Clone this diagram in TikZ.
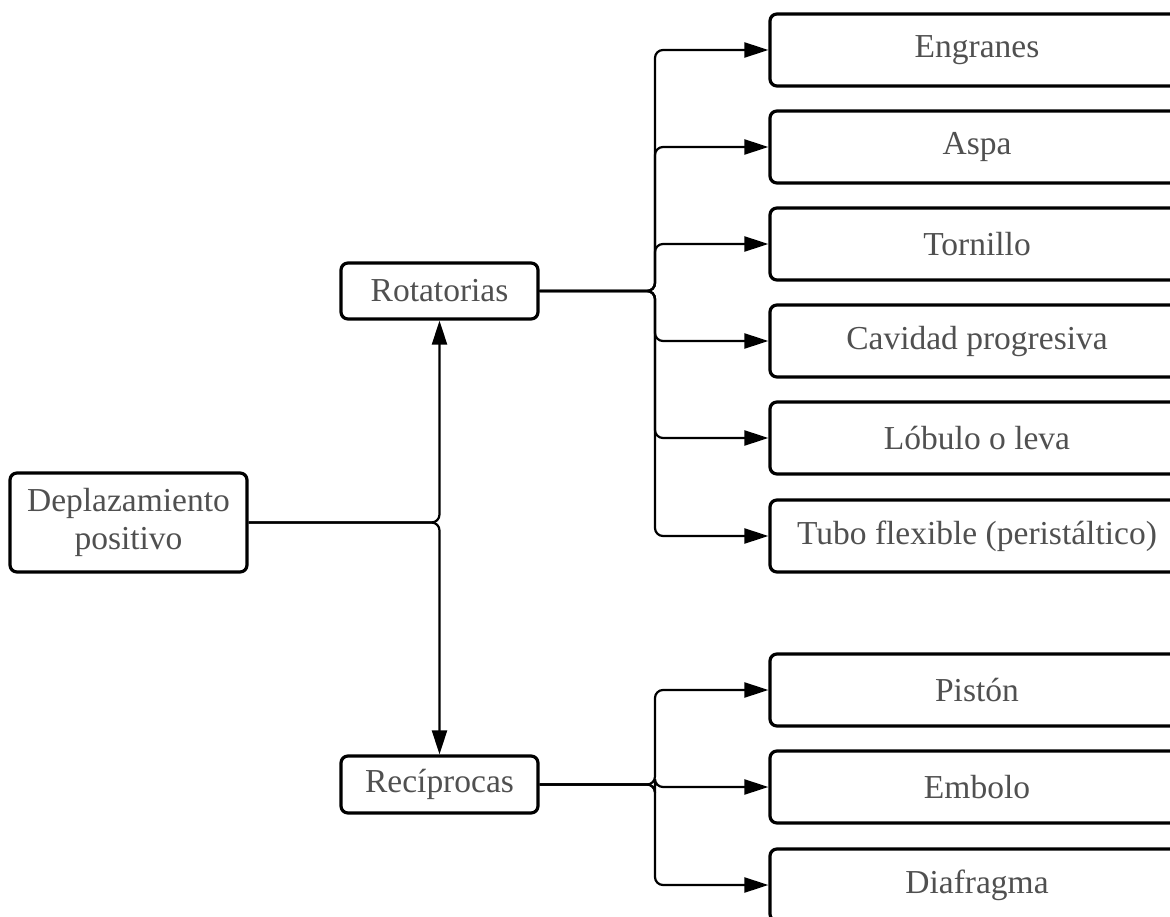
\documentclass[tikz,border=0pt]{standalone}
\usepackage{fontspec}
\setmainfont{Liberation Serif}
\usetikzlibrary{arrows.meta}
\definecolor{txt}{HTML}{505050}
\begin{document}
\begin{tikzpicture}[x=1pt,y=-1pt,
  box/.style={draw=black, line width=3.2pt, rounded corners=7pt, fill=white, text=txt,
    font=\fontsize{33.5}{38}\selectfont, align=center, inner sep=0pt},
  leaf/.style={box, minimum width=414pt, minimum height=72pt},
  conn/.style={line width=2.2pt, rounded corners=8pt, -{Triangle[length=24pt,width=15pt]}}]
\useasboundingbox (0,0) rectangle (1170,917);
\clip (0,0) rectangle (1170,917);
\node[box, minimum width=237pt, minimum height=99pt] (dep) at (128.5,522.5) {Deplazamiento\\positivo};
\node[box, minimum width=197pt, minimum height=56pt] (rot) at (439.5,291) {Rotatorias};
\node[box, minimum width=197pt, minimum height=57pt] (rec) at (439.5,784.5) {Recíprocas};
\node[leaf] (c1) at (977,50) {Engranes};
\node[leaf] (c2) at (977,147) {Aspa};
\node[leaf] (c3) at (977,244) {Tornillo};
\node[leaf] (c4) at (977,341) {Cavidad progresiva};
\node[leaf] (c5) at (977,438) {Lóbulo o leva};
\node[leaf] (c6) at (977,536) {Tubo flexible (peristáltico)};
\node[leaf] (d1) at (977,690) {Pistón};
\node[leaf] (d2) at (977,787) {Embolo};
\node[leaf] (d3) at (977,885) {Diafragma};
\draw[conn] (dep.east) -| (rot.south);
\draw[conn] (dep.east) -| (rec.north);
\foreach \c in {c1,c2,c3,c4,c5,c6}
  \draw[conn] (rot.east) -- (655,291) |- (\c.west);
\foreach \c in {d1,d2,d3}
  \draw[conn] (rec.east) -- (655,784.5) |- (\c.west);
\end{tikzpicture}
\end{document}
